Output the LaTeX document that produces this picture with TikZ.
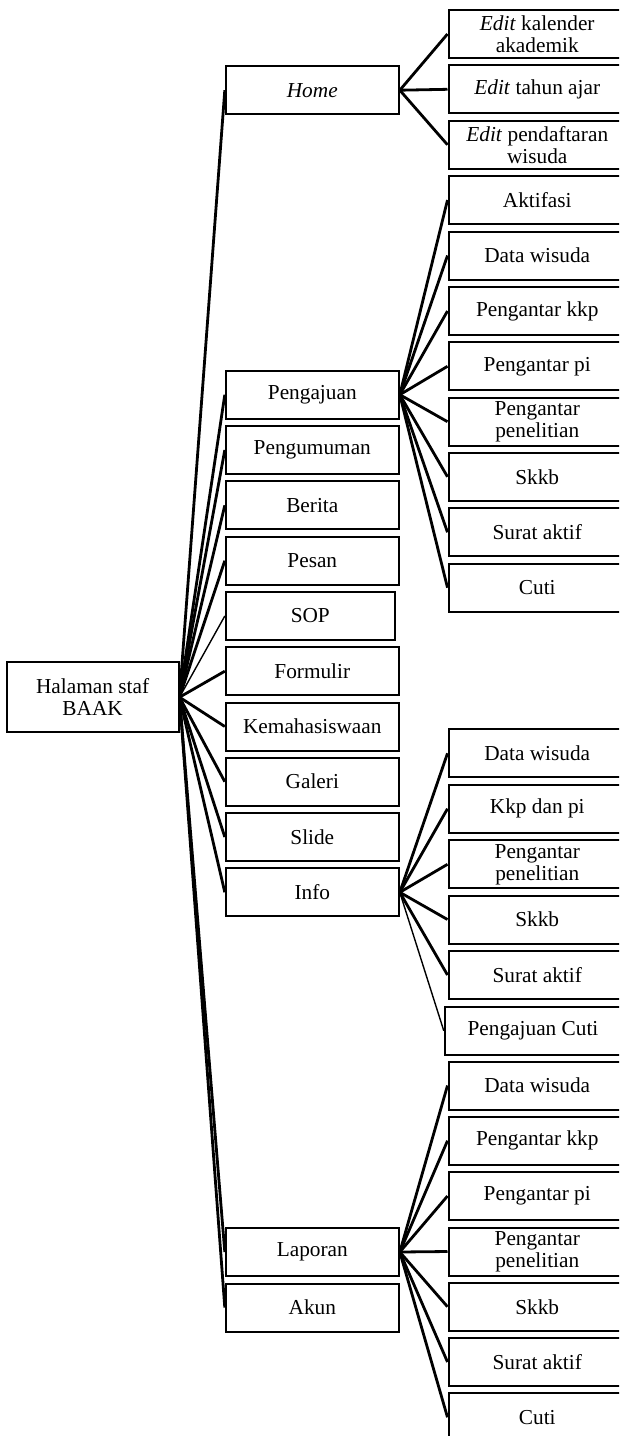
\documentclass[tikz,border=0pt]{standalone}
\usepackage{fontspec}
\setmainfont{Liberation Serif}
\newcommand\boxfont{\fontsize{21.3}{22}\selectfont}
\begin{document}
\begin{tikzpicture}[x=1pt,y=-1pt,
  bx/.style={draw,line width=2pt,inner sep=0pt,align=center,font=\boxfont},
  mid/.style={bx,minimum width=173pt,minimum height=48pt},
  rb/.style={bx,minimum width=177.5pt,minimum height=48pt},
  conn/.style={line width=2.8pt},
  thinconn/.style={line width=1.4pt}]
\useasboundingbox (0,0) rectangle (619,1436);
\clip (0,0) rectangle (619,1436);
% root
\node[bx,minimum width=171.8pt,minimum height=70.5pt] (hal) at (92.6,697.2) {Halaman staf\\BAAK};
% middle column
\node[mid] (home) at (312.3,90.2) {\textit{Home}};
\node[mid] (peng) at (312.3,394.7) {Pengajuan};
\node[mid] (pengu) at (312.3,450) {Pengumuman};
\node[mid] (ber) at (312.3,505.3) {Berita};
\node[mid] (pes) at (312.3,560.7) {Pesan};
\node[mid,minimum width=169pt] (sop) at (310.3,616) {SOP};
\node[mid] (form) at (312.3,671.2) {Formulir};
\node[mid] (kem) at (312.3,726.5) {Kemahasiswaan};
\node[mid] (gal) at (312.3,781.7) {Galeri};
\node[mid] (sli) at (312.3,837) {Slide};
\node[mid] (info) at (312.3,892.3) {Info};
\node[mid] (lap) at (312.3,1252) {Laporan};
\node[mid] (akun) at (312.3,1307.5) {Akun};
% home children
\node[rb] (h1) at (537.25,34) {\textit{Edit} kalender\\akademik};
\node[rb] (h2) at (537.25,89.3) {\textit{Edit} tahun ajar};
\node[rb] (h3) at (537.25,144.8) {\textit{Edit} pendaftaran\\wisuda};
% pengajuan children
\node[rb] (p1) at (537.25,200) {Aktifasi};
\node[rb] (p2) at (537.25,255.5) {Data wisuda};
\node[rb] (p3) at (537.25,311) {Pengantar kkp};
\node[rb] (p4) at (537.25,366.3) {Pengantar pi};
\node[rb] (p5) at (537.25,421.7) {Pengantar\\penelitian};
\node[rb] (p6) at (537.25,476.8) {Skkb};
\node[rb] (p7) at (537.25,532.3) {Surat aktif};
\node[rb] (p8) at (537.25,587.7) {Cuti};
% info children
\node[rb] (i1) at (537.25,753.3) {Data wisuda};
\node[rb] (i2) at (537.25,808.7) {Kkp dan pi};
\node[rb] (i3) at (537.25,864.3) {Pengantar\\penelitian};
\node[rb] (i4) at (537.25,919.5) {Skkb};
\node[rb] (i5) at (537.25,975) {Surat aktif};
\node[rb,minimum width=176.4pt] (i6) at (533,1030.8) {Pengajuan Cuti};
% laporan children
\node[rb] (l1) at (537.25,1085.5) {Data wisuda};
\node[rb] (l2) at (537.25,1140.7) {Pengantar kkp};
\node[rb] (l3) at (537.25,1196) {Pengantar pi};
\node[rb] (l4) at (537.25,1251.5) {Pengantar\\penelitian};
\node[rb] (l5) at (537.25,1306.7) {Skkb};
\node[rb] (l6) at (537.25,1362) {Surat aktif};
\node[rb] (l7) at (537.25,1417.3) {Cuti};
% connectors from root
\foreach \n in {home,peng,pengu,ber,pes,form,kem,gal,sli,info,lap,akun}
  \draw[conn] (hal.east) -- (\n.west);
\draw[thinconn] (hal.east) -- (sop.west);
% home
\foreach \n in {h1,h2,h3}
  \draw[conn] (home.east) -- (\n.west);
% pengajuan
\foreach \n in {p1,p2,p3,p4,p5,p6,p7,p8}
  \draw[conn] (peng.east) -- (\n.west);
% info
\foreach \n in {i1,i2,i3,i4,i5}
  \draw[conn] (info.east) -- (\n.west);
\draw[thinconn] (info.east) -- (i6.west);
% laporan
\foreach \n in {l1,l2,l3,l4,l5,l6,l7}
  \draw[conn] (lap.east) -- (\n.west);
\end{tikzpicture}
\end{document}
